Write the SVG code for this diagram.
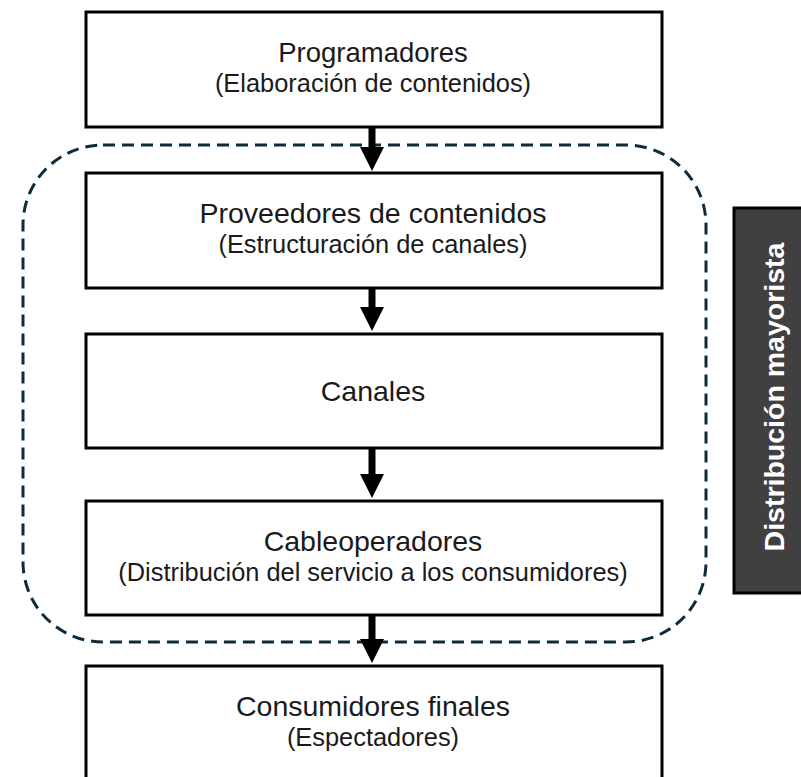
<svg xmlns="http://www.w3.org/2000/svg" width="801" height="777" viewBox="0 0 801 777">
<style>
.box{fill:#fff;stroke:#000;stroke-width:3}
.t{font-family:"Liberation Sans",Arial,sans-serif;fill:#1a1a1a;text-anchor:middle}
.t1{font-size:28.5px}
.t2{font-size:25.4px}
.shaft{stroke:#000;stroke-width:7}
.head{fill:#000}
</style>
<rect width="801" height="777" fill="#fff"/>
<g id="grupo-mayorista">
<rect x="23" y="145" width="683" height="497" rx="80" ry="80" fill="none" stroke="#0f2a3a" stroke-width="3" stroke-dasharray="12 7"/>
</g>
<g id="programadores">
<rect class="box" x="86" y="12" width="576" height="115"/>
<text class="t t1" x="373" y="62" style="font-size:27.5px">Programadores</text>
<text class="t t2" x="373" y="92">(Elaboración de contenidos)</text>
</g>
<g id="proveedores">
<rect class="box" x="86" y="173" width="576" height="115"/>
<text class="t t1" x="373" y="223">Proveedores de contenidos</text>
<text class="t t2" x="373" y="253">(Estructuración de canales)</text>
</g>
<g id="canales">
<rect class="box" x="86" y="334" width="576" height="114"/>
<text class="t t1" x="373" y="401">Canales</text>
</g>
<g id="cableoperadores">
<rect class="box" x="86" y="501" width="576" height="114"/>
<text class="t t1" x="373" y="551">Cableoperadores</text>
<text class="t t2" x="373" y="581">(Distribución del servicio a los consumidores)</text>
</g>
<g id="consumidores">
<rect class="box" x="86" y="666" width="576" height="120"/>
<text class="t t1" x="373" y="716">Consumidores finales</text>
<text class="t t2" x="373" y="746">(Espectadores)</text>
</g>
<g id="distribucion-mayorista">
<rect x="734" y="208" width="80" height="385" fill="#404040" stroke="#000" stroke-width="3"/>
<text x="784" y="397" transform="rotate(-90 784 397)" font-family="Liberation Sans,Arial,sans-serif" font-size="28.5" font-weight="bold" fill="#fff" text-anchor="middle">Distribución mayorista</text>
</g>
<g id="conectores">
<line class="shaft" x1="372" y1="127" x2="372" y2="150"/>
<polygon class="head" points="360,147 384,147 372,171"/>
<line class="shaft" x1="372" y1="288" x2="372" y2="310"/>
<polygon class="head" points="360,307 384,307 372,331"/>
<line class="shaft" x1="372" y1="448" x2="372" y2="477"/>
<polygon class="head" points="360,474 384,474 372,498"/>
<line class="shaft" x1="372" y1="615" x2="372" y2="642"/>
<polygon class="head" points="360,639 384,639 372,663"/>
</g>
</svg>
